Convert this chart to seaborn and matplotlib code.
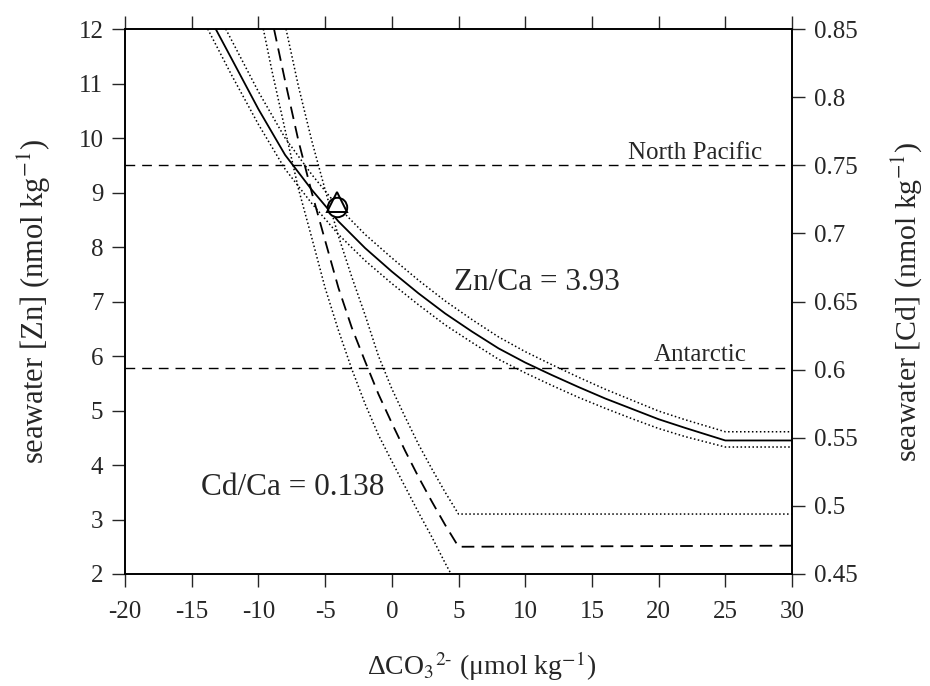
import matplotlib
matplotlib.use("Agg")
import matplotlib.pyplot as plt
import seaborn as sns

# ---------------- data ----------------
# Zn/Ca = 3.93 : seawater [Zn] vs delta CO3 (solid = central, dotted = bounds)
zn_mid_x = [-13.2, -12, -10, -8, -6, -4, -2, 0, 2, 4, 6, 8, 10, 12, 14, 16, 18, 20, 22, 25, 30]
zn_mid_y = [12.0, 11.45, 10.53, 9.69, 9.05, 8.47, 7.98, 7.55, 7.15, 6.78, 6.45, 6.14, 5.88, 5.65, 5.43, 5.22, 5.03, 4.84, 4.68, 4.45, 4.45]

zn_hi_x = [-12.45, -12, -10, -8, -6, -4, -2, 0, 2, 4, 6, 8, 10, 12, 14, 16, 18, 20, 22, 25, 30]
zn_hi_y = [12.0, 11.79, 10.85, 10.0, 9.33, 8.73, 8.23, 7.8, 7.39, 7.01, 6.67, 6.35, 6.08, 5.84, 5.61, 5.39, 5.19, 4.99, 4.83, 4.61, 4.61]

zn_lo_x = [-13.8, -12, -10, -8, -6, -4, -2, 0, 2, 4, 6, 8, 10, 12, 14, 16, 18, 20, 22, 25, 30]
zn_lo_y = [12.0, 11.15, 10.25, 9.43, 8.8, 8.23, 7.75, 7.33, 6.94, 6.57, 6.25, 5.94, 5.69, 5.46, 5.24, 5.04, 4.85, 4.67, 4.52, 4.33, 4.33]

# Cd/Ca = 0.138 : seawater [Cd] expressed on the Zn axis (dashed = central, dotted = bounds)
cd_mid_x = [-8.83, -8, -7, -6, -5, -4, -3, -2, -1, 0, 1, 2, 3, 4, 5, 30]
cd_mid_y = [12.0, 11.05, 9.95, 9.0, 8.12, 7.25, 6.52, 5.9, 5.3, 4.77, 4.26, 3.78, 3.33, 2.9, 2.5, 2.52]

cd_hi_x = [-7.93, -7, -6, -5, -4, -3, -2, -1, 0, 1, 2, 3, 4, 5, 30]
cd_hi_y = [12.0, 10.95, 9.95, 9.05, 8.2, 7.45, 6.75, 6.0, 5.4, 4.88, 4.38, 3.93, 3.5, 3.1, 3.1]

cd_lo_x = [-9.63, -9, -8, -7, -6, -5, -4, -3, -2, -1, 0, 1, 2, 3, 4, 5, 30]
cd_lo_y = [12.0, 11.25, 10.15, 9.07, 8.17, 7.25, 6.47, 5.76, 5.12, 4.55, 4.07, 3.6, 3.13, 2.68, 2.2, 1.75, 1.75]

# reference seawater levels (Zn axis)
north_pacific_zn = 9.5
antarctic_zn = 5.78

# sample point
sample_x = [-4.08]
sample_tri_y = [8.82]
sample_circ_y = [8.73]

x_ticks = [-20, -15, -10, -5, 0, 5, 10, 15, 20, 25, 30]
zn_ticks = [2, 3, 4, 5, 6, 7, 8, 9, 10, 11, 12]
cd_ticks = [0.45, 0.5, 0.55, 0.6, 0.65, 0.7, 0.75, 0.8, 0.85]
cd_tick_labels = ["0.45", "0.5", "0.55", "0.6", "0.65", "0.7", "0.75", "0.8", "0.85"]

# ---------------- styling ----------------
sns.set_style("ticks")
plt.rcParams["font.family"] = ["Liberation Serif", "DejaVu Serif"]
plt.rcParams["mathtext.fontset"] = "stix"

fig = plt.figure(figsize=(9.3, 6.86), dpi=100)
ax = fig.add_axes([125 / 930, 1 - 574 / 686, 667 / 930, 545 / 686])

dotted = (0, (1.0, 1.6))
dashed = (0, (7, 4))
lw = 1.1

sns.lineplot(x=zn_mid_x, y=zn_mid_y, ax=ax, color="black", lw=1.3, estimator=None, sort=False)
sns.lineplot(x=zn_hi_x, y=zn_hi_y, ax=ax, color="black", lw=lw, linestyle=dotted, estimator=None, sort=False)
sns.lineplot(x=zn_lo_x, y=zn_lo_y, ax=ax, color="black", lw=lw, linestyle=dotted, estimator=None, sort=False)

sns.lineplot(x=cd_mid_x, y=cd_mid_y, ax=ax, color="black", lw=1.3, linestyle=dashed, estimator=None, sort=False)
sns.lineplot(x=cd_hi_x, y=cd_hi_y, ax=ax, color="black", lw=lw, linestyle=dotted, estimator=None, sort=False)
sns.lineplot(x=cd_lo_x, y=cd_lo_y, ax=ax, color="black", lw=lw, linestyle=dotted, estimator=None, sort=False)

ax.axhline(north_pacific_zn, color="black", lw=1.0, linestyle=(0, (7, 5)))
ax.axhline(antarctic_zn, color="black", lw=1.0, linestyle=(0, (7, 5)))

ax.plot(sample_x, sample_circ_y, marker="o", markersize=14, markerfacecolor="white",
        markeredgecolor="black", markeredgewidth=1.4, linestyle="none", zorder=5)
ax.plot(sample_x, sample_tri_y, marker="^", markersize=14, markerfacecolor="none",
        markeredgecolor="black", markeredgewidth=1.4, linestyle="none", zorder=6)

ax.text(22.77, north_pacific_zn + 0.12, "North Pacific", fontsize=18, ha="center", va="baseline")
ax.text(23.1, antarctic_zn + 0.12, "Antarctic", fontsize=18, ha="center", va="baseline")
ax.text(10.85, 7.34, "Zn/Ca = 3.93", fontsize=22.5, ha="center", va="center")
ax.text(-7.46, 3.58, "Cd/Ca = 0.138", fontsize=22.5, ha="center", va="center")

ax.set_xlim(-20, 30)
ax.set_ylim(2, 12)
ax.set_xticks(x_ticks)
ax.set_xticklabels([str(v) for v in x_ticks])
ax.set_yticks(zn_ticks)
ax.tick_params(axis="both", which="major", direction="out", length=9.5, width=1.0,
               labelsize=18, top=True, labeltop=False, right=False)
ax.tick_params(axis="x", pad=10)
ax.tick_params(axis="y", pad=6)

ax2 = ax.twinx()
ax2.set_ylim(0.45, 0.85)
ax2.set_yticks(cd_ticks)
ax2.set_yticklabels(cd_tick_labels)
ax2.tick_params(axis="y", direction="out", length=9.5, width=1.0, labelsize=18, pad=6)

for a in (ax, ax2):
    for s in a.spines.values():
        s.set_visible(True)
        s.set_linewidth(1.2)
        s.set_color("black")

ax.set_xlabel(r"ΔCO$_3$$^{2\text{-}}$ ($\mathregular{\mu}$mol kg$^{-1}$)", fontsize=20)
ax.set_ylabel(r"seawater [Zn] (nmol kg$^{-1}$)", fontsize=22)
ax2.set_ylabel(r"seawater [Cd] (nmol kg$^{-1}$)", fontsize=21.5)
ax.xaxis.set_label_coords(0.535, -0.139)
ax.yaxis.set_label_coords(-0.108, 0.5)
ax2.yaxis.set_label_coords(1.146, 0.5)

fig.savefig("out.png", dpi=100)
